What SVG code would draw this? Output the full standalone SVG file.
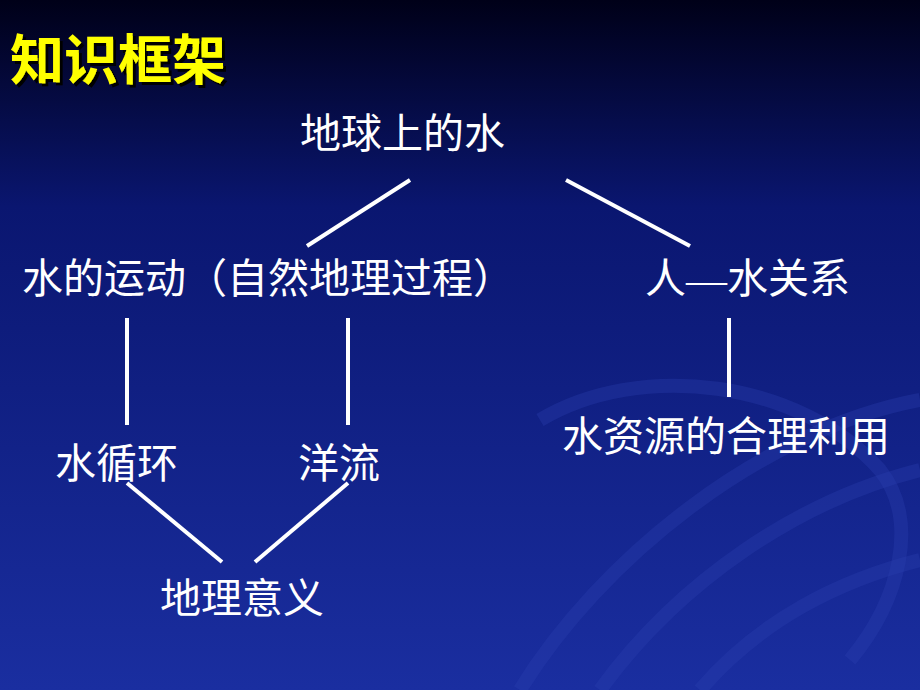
<svg xmlns="http://www.w3.org/2000/svg" width="920" height="690" viewBox="0 0 920 690">
<defs>
<linearGradient id="bg" x1="0" y1="0" x2="0" y2="1">
<stop offset="0" stop-color="#000018"/>
<stop offset="0.3" stop-color="#0a1670"/>
<stop offset="1" stop-color="#1a2ea0"/>
</linearGradient>
<filter id="sh" x="-10%" y="-20%" width="130%" height="150%">
<feDropShadow dx="3" dy="3" stdDeviation="0.5" flood-color="#000"/>
</filter>
<style>
.t{font-family:"Liberation Serif","Noto Sans CJK SC",serif;font-size:41px;fill:#fff}
.c line{stroke:#fff;stroke-width:4}
.sw{fill:none;stroke:#2a40b0;stroke-width:14;opacity:0.35}
</style>
</defs>
<rect width="920" height="690" fill="url(#bg)"/>
<path class="sw" d="M520 690 C600 560 760 430 920 400"/>
<path class="sw" d="M600 690 C680 580 800 500 920 470"/>
<path class="sw" d="M540 420 C640 360 800 380 880 470 C920 520 900 600 850 660"/>
<path class="sw" d="M700 690 C760 620 840 580 920 560"/>
<text x="10" y="80" filter="url(#sh)" font-family="'Noto Sans CJK SC',sans-serif" font-size="54" font-weight="bold" fill="#ffff00">知识框架</text>
<g class="c" id="connectors">
<line x1="410" y1="180" x2="307" y2="246"/>
<line x1="566" y1="180" x2="690" y2="246"/>
<line x1="127" y1="318" x2="127" y2="425"/>
<line x1="348" y1="318" x2="348" y2="425"/>
<line x1="729" y1="318" x2="729" y2="397"/>
<line x1="127" y1="483" x2="222" y2="562"/>
<line x1="348" y1="483" x2="255" y2="562"/>
</g>
<g id="n1"><text class="t" x="300" y="148">地球上的水</text></g>
<g id="n2"><text class="t" x="22" y="293">水的运动（自然地理过程）</text></g>
<g id="n3"><text class="t" x="645" y="293">人—水关系</text></g>
<g id="n4"><text class="t" x="55" y="478">水循环</text></g>
<g id="n5"><text class="t" x="298" y="478">洋流</text></g>
<g id="n6"><text class="t" x="562" y="451">水资源的合理利用</text></g>
<g id="n7"><text class="t" x="160" y="613">地理意义</text></g>
</svg>
